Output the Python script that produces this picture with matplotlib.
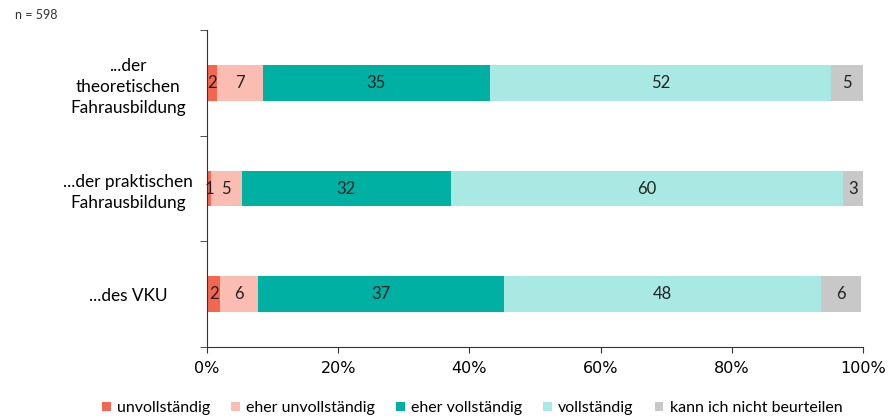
import numpy as np
import matplotlib.pyplot as plt

plt.rcParams['font.family'] = ['Lato', 'DejaVu Sans']

rows = ["...der\ntheoretischen\nFahrausbildung", "...der praktischen\nFahrausbildung", "...des VKU"]
answers = ["unvollständig", "eher unvollständig", "eher vollständig", "vollständig", "kann ich nicht beurteilen"]
colors = ["#F4664F", "#FBBDB1", "#00B0A3", "#A9E9E3", "#C8C8C8"]

# share per answer, one list per answer (rows in order above)
unvollstaendig = [1.6, 0.6, 2.0]
eher_unvollstaendig = [6.9, 4.7, 5.8]
eher_vollstaendig = [34.6, 31.9, 37.4]
vollstaendig = [52.0, 59.8, 48.4]
nicht_beurteilen = [4.9, 3.0, 6.1]

# printed labels
labels = [[2, 7, 35, 52, 5],
          [1, 5, 32, 60, 3],
          [2, 6, 37, 48, 6]]

series = [unvollstaendig, eher_unvollstaendig, eher_vollstaendig, vollstaendig, nicht_beurteilen]

fig = plt.figure(figsize=(8.88, 4.18), dpi=100)
ax = fig.add_axes([207 / 888, 1 - 347 / 418, 656 / 888, 317 / 418])

y = np.arange(len(rows))
left = np.zeros(len(rows))
for i, (vals, col) in enumerate(zip(series, colors)):
    vals = np.array(vals)
    ax.barh(y, vals, left=left, height=0.34, color=col, label=answers[i])
    for j in range(len(rows)):
        ax.text(left[j] + vals[j] / 2, y[j], str(labels[j][i]), ha='center', va='center',
                fontsize=12, color='#222222')
    left += vals

ax.set_xlim(0, 100)
ax.set_ylim(2.5, -0.5)
ax.set_xticks(np.arange(0, 101, 20))
ax.set_xticklabels([f"{v}%" for v in range(0, 101, 20)], fontsize=11.5, family='DejaVu Sans')
ax.set_yticks(y)
ax.set_yticklabels(rows, fontsize=12.4, ha='center', linespacing=1.4)
ax.tick_params(axis='y', length=0, pad=57)
ax.set_yticks([-0.5, 0.5, 1.5, 2.5], minor=True)
ax.tick_params(axis='y', which='minor', length=5, color='#333333')
ax.tick_params(axis='x', length=4, color='#333333', pad=6)
for s in ['top', 'right']:
    ax.spines[s].set_visible(False)
ax.spines['left'].set_color('#333333')
ax.spines['bottom'].set_color('#333333')

fig.text(15 / 888, 1 - 15 / 418, "n = 598", fontsize=9, va='center', color='#333333')

fig.legend(loc='center left', bbox_to_anchor=(102 / 888, 1 - 408 / 418), ncol=5, frameon=False,
           fontsize=11.5, handlelength=0.55, handleheight=0.55, handletextpad=0.4,
           columnspacing=1.3, borderaxespad=0, borderpad=0)

fig.savefig("out.png", dpi=100)
